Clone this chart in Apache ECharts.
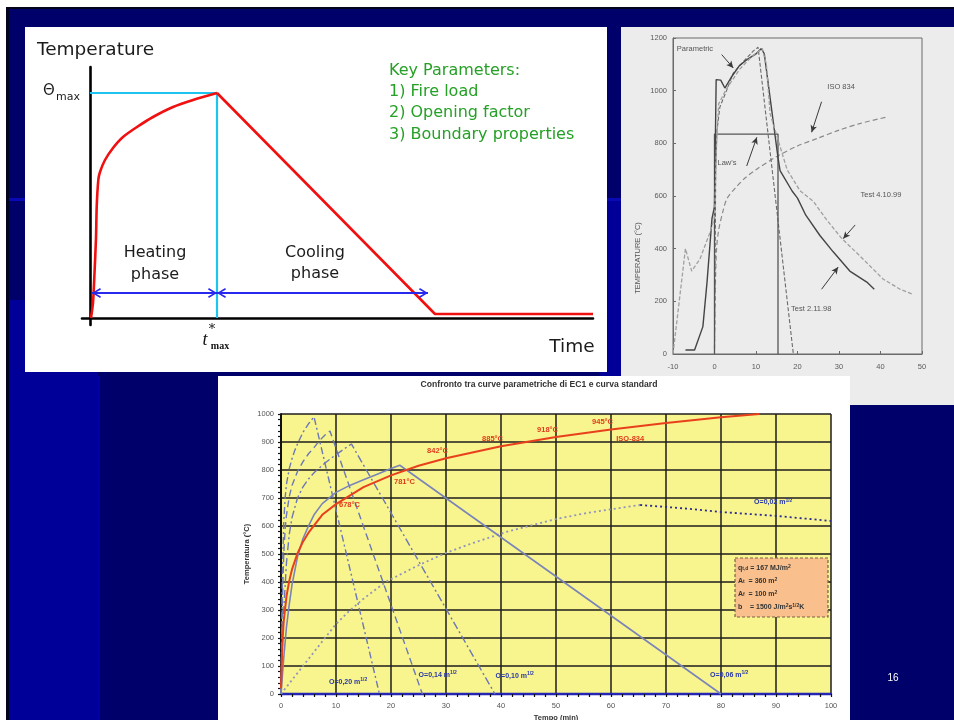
<!DOCTYPE html>
<html>
<head>
<meta charset="utf-8">
<title>Curve parametriche di incendio</title>
<script src="https://cdn.jsdelivr.net/npm/echarts@6/dist/echarts.min.js"></script>
<style>
html,body{margin:0;padding:0;background:#fff;overflow:hidden}
#chart{width:954px;height:720px}
</style>
</head>
<body>
<div id="chart"></div>
<script>
// ---------- Schematic parametric fire curve (arbitrary units) ----------
const schemHeatTime = [1, 3, 4.5, 6, 6.7, 8.3, 10, 15, 23, 33, 47, 63, 83, 103, 127];
const schemHeatTemp = [0, 15, 45, 80, 111, 138, 146, 158, 170, 181, 191, 201, 211, 218, 225];
const schemCoolTime = [127, 345, 503];
const schemCoolTemp = [225, 4, 4];
const schemPhaseLevel = 25;
const schemPhaseStart = 2;
const schemCoolPhaseEnd = 338;
const keyParameters = ['Key Parameters:', '1) Fire load', '2) Opening factor', '3) Boundary properties'];

// ---------- Test results vs. models (scanned comparison) ----------
const scanIsoTime = [0, 0.2, 0.5, 1, 2, 3, 5, 7.5, 10, 15, 20, 25, 30, 35, 41.5];
const scanIsoTemp = [20, 250, 400, 470, 540, 590, 630, 670, 700, 750, 790, 820, 850, 875, 900];
const scanParTime = [0, 0.3, 0.6, 1.3, 3, 4.5, 7, 9.3, 10.5, 19];
const scanParTemp = [20, 700, 850, 938, 1004, 1066, 1111, 1150, 1165, 0];
const scanLawTime = [0, 0, 15.3, 15.3];
const scanLawTemp = [0, 835, 835, 0];
const test98Time = [-7, -4.8, -2.8, -1.8, -0.6, 0, 0.4, 1.5, 2.5, 4, 6, 8, 10, 11.3, 12, 15.3, 15.8, 18.7, 20, 22, 25.4, 28.6, 32.6, 36.7, 38.5];
const test98Temp = [15, 15, 104, 273, 515, 560, 1042, 1040, 1010, 1050, 1095, 1120, 1140, 1160, 1140, 746, 696, 619, 592, 527, 450, 388, 315, 273, 246];
const test99Time = [-10, -8.5, -7, -5.5, -3.5, -1, 0, 0.5, 1, 3, 6, 9, 11.5, 12.5, 13.4, 17.5, 20.6, 23.8, 27, 30.7, 35, 40.6, 44.7, 47.8];
const test99Temp = [0, 200, 400, 315, 361, 465, 520, 800, 950, 1010, 1080, 1130, 1160, 1100, 912, 700, 620, 580, 510, 438, 373, 285, 246, 227];
const scanXTicks = [-10, 50, 10];
const scanYTicks = [0, 1200, 200];

// ---------- EC1 parametric curves vs. ISO 834 ----------
const isoTime = [0, 0.25, 0.5, 1, 1.5, 2, 3, 4, 5, 7.5, 10, 15, 20, 25, 30, 40, 50, 60, 70, 80, 87];
const isoTemp = [20, 185, 261, 349, 404, 445, 502, 544, 576, 640, 678, 739, 781, 815, 842, 885, 918, 945, 968, 988, 1000];
const isoLabelTimes = [10, 20, 30, 40, 50, 60];
const o20Time = [0, 0.25, 0.5, 0.75, 1, 1.5, 2, 2.5, 3, 4, 5, 6, 17.9];
const o20Temp = [0, 430, 610, 700, 750, 805, 840, 870, 893, 935, 965, 990, 0];
const o14Time = [0, 0.25, 0.5, 0.75, 1, 1.5, 2, 3, 4, 5, 6, 7, 8, 8.9, 25.7];
const o14Temp = [0, 330, 500, 590, 640, 705, 745, 795, 830, 858, 880, 905, 925, 939, 0];
const o10Time = [0, 0.5, 1, 1.5, 2, 3, 4, 5, 6, 8, 10, 12.8, 38.9];
const o10Temp = [0, 300, 470, 570, 630, 700, 740, 768, 790, 825, 855, 893, 0];
const o06Time = [0, 0.5, 1, 1.5, 2, 3, 4, 5, 6, 7.5, 10, 12.5, 15, 17.5, 20, 21.6, 80];
const o06Temp = [0, 130, 240, 320, 390, 490, 555, 600, 640, 680, 720, 745, 765, 785, 805, 817, 0];
const o02HeatTime = [0, 2, 4, 6, 8, 10, 12.6, 15, 19, 25, 30, 35, 41, 46, 50, 56, 65.3];
const o02HeatTemp = [0, 50, 100, 150, 200, 250, 300, 340, 400, 460, 504, 540, 579, 605, 625, 648, 675];
const o02CoolTime = [65.3, 70, 75, 80, 85, 90, 95, 100];
const o02CoolTemp = [675, 668, 660, 650, 643, 636, 627, 618];
const openingLabels = ['O=0,20 m', 'O=0,14 m', 'O=0,10 m', 'O=0,06 m', 'O=0,02 m'];
const mainXTicks = [0, 100, 10];
const mainYTicks = [0, 1000, 100];
const fireData = ['q{s|t,d} = 167 MJ/m{p|2}', 'A{s|t}  = 360 m{p|2}', 'A{s|f}  = 100 m{p|2}', 'b    = 1500 J/m{p|2}s{p|1/2}K'];

const pair = (xs, ys) => xs.map((x, i) => [x, ys[i]]);
const plain = v => String(v);

const SANS = '"Liberation Sans", Arial, sans-serif';
const VERD = '"DejaVu Sans", Verdana, sans-serif';
const PARAM_COLOR = '#6c78b4';
const LABEL_BLUE = '#2838a8';
const ISO_RED = '#e8401c';

// label placement for the ISO 834 values
const isoLabelPlace = [
  { position: 'right', distance: 3, offset: [0, 1] },
  { position: 'right', distance: 3, offset: [0, 7] },
  { position: 'left', distance: 0, offset: [2, -7] },
  { position: 'left', distance: 0, offset: [2, -7] },
  { position: 'left', distance: 0, offset: [2, -7] },
  { position: 'left', distance: 0, offset: [2, -7] }
];
const isoData = isoTime.map((t, i) => {
  const item = { value: [t, isoTemp[i]] };
  const k = isoLabelTimes.indexOf(t);
  if (k >= 0) item.label = Object.assign({ show: true }, isoLabelPlace[k]);
  return item;
});

const supRich = {
  s: { fontSize: 5, verticalAlign: 'top', fontWeight: 'bold', fontFamily: SANS, color: LABEL_BLUE }
};
function openingMark(text, t, v) {
  return {
    symbol: 'circle', symbolSize: 0, silent: true,
    label: {
      show: true, position: 'inside', formatter: text + '{s|1/2}',
      color: LABEL_BLUE, fontSize: 7, fontWeight: 'bold', fontFamily: SANS, lineHeight: 9, rich: supRich
    },
    data: [{ coord: [t, v] }]
  };
}

function scanNote(text, t, v, from, to) {
  return {
    markPoint: {
      symbol: 'circle', symbolSize: 0, silent: true,
      label: { show: true, position: 'inside', formatter: text, color: '#555', fontSize: 7.5, fontFamily: SANS },
      data: [{ coord: [t, v] }]
    },
    markLine: {
      silent: true, symbol: ['none', 'arrow'], symbolSize: [5, 7],
      lineStyle: { color: '#3a3a3a', width: 1, type: 'solid' },
      label: { show: false },
      data: [[{ coord: from }, { coord: to }]]
    }
  };
}

// open arrow head whose tip sits at the symbol centre
const chevron = 'path://M5,-10 L5,-10 Z M5,0 L10,9 L8.6,10 L5,3.2 L1.4,10 L0,9 Z';

const series = [
  // ----- schematic -----
  {
    type: 'line', xAxisIndex: 0, yAxisIndex: 0, showSymbol: false, smooth: 0.25,
    data: pair(schemHeatTime, schemHeatTemp),
    lineStyle: { color: '#f01010', width: 2.6 }, z: 4
  },
  {
    type: 'line', xAxisIndex: 0, yAxisIndex: 0, showSymbol: false,
    data: pair(schemCoolTime, schemCoolTemp),
    lineStyle: { color: '#f01010', width: 2.6 }, z: 4
  },
  {
    type: 'line', xAxisIndex: 0, yAxisIndex: 0, showSymbol: false,
    data: [[0, schemHeatTemp[schemHeatTemp.length - 1]],
           [schemHeatTime[schemHeatTime.length - 1], schemHeatTemp[schemHeatTemp.length - 1]],
           [schemHeatTime[schemHeatTime.length - 1], 0]],
    lineStyle: { color: '#1ec4f0', width: 2.2 }, z: 3,
    markLine: {
      silent: true, symbol: [chevron, chevron], symbolSize: [10, 18],
      lineStyle: { color: '#2828ee', width: 2, type: 'solid' },
      itemStyle: { color: '#2828ee' },
      label: { show: false },
      data: [
        [{ coord: [schemPhaseStart, schemPhaseLevel] }, { coord: [schemHeatTime[schemHeatTime.length - 1], schemPhaseLevel] }],
        [{ coord: [schemHeatTime[schemHeatTime.length - 1], schemPhaseLevel] }, { coord: [schemCoolPhaseEnd, schemPhaseLevel] }]
      ]
    }
  },
  // ----- scanned comparison -----
  Object.assign({
    type: 'line', xAxisIndex: 1, yAxisIndex: 1, showSymbol: false, smooth: 0.3,
    data: pair(scanIsoTime, scanIsoTemp),
    lineStyle: { color: '#8a8a8a', width: 1.2, type: [5, 3] }
  }, scanNote('ISO 834', 30.5, 1015, [25.8, 958], [23.4, 842])),
  Object.assign({
    type: 'line', xAxisIndex: 1, yAxisIndex: 1, showSymbol: false,
    data: pair(scanParTime, scanParTemp),
    lineStyle: { color: '#6a6a6a', width: 1.1, type: [4, 2] }
  }, scanNote('Parametric', -4.7, 1158, [1.73, 1137], [4.53, 1086])),
  Object.assign({
    type: 'line', xAxisIndex: 1, yAxisIndex: 1, showSymbol: false,
    data: pair(scanLawTime, scanLawTemp),
    lineStyle: { color: '#555', width: 1.3 }
  }, scanNote("Law's", 3.0, 727, [7.76, 714], [10.2, 823])),
  Object.assign({
    type: 'line', xAxisIndex: 1, yAxisIndex: 1, showSymbol: false,
    data: pair(test98Time, test98Temp),
    lineStyle: { color: '#444', width: 1.4 }
  }, scanNote('Test 2.11.98', 23.3, 173, [25.8, 246], [29.8, 330])),
  Object.assign({
    type: 'line', xAxisIndex: 1, yAxisIndex: 1, showSymbol: false,
    data: pair(test99Time, test99Temp),
    lineStyle: { color: '#a0a0a0', width: 1.3, type: [4, 2] }
  }, scanNote('Test 4.10.99', 40.1, 605, [33.9, 490], [31.0, 438])),
  // ----- EC1 parametric curves -----
  {
    type: 'line', xAxisIndex: 2, yAxisIndex: 2, showSymbol: false,
    data: pair(o02HeatTime, o02HeatTemp),
    lineStyle: { color: '#9094bc', width: 1.8, type: [2, 3] }, z: 3
  },
  {
    type: 'line', xAxisIndex: 2, yAxisIndex: 2, showSymbol: false,
    data: pair(o02CoolTime, o02CoolTemp),
    lineStyle: { color: '#2a2a90', width: 1.8, type: [2, 3] }, z: 3,
    markPoint: openingMark(openingLabels[4], 89.5, 684)
  },
  {
    type: 'line', xAxisIndex: 2, yAxisIndex: 2, showSymbol: false,
    data: pair(o20Time, o20Temp),
    lineStyle: { color: PARAM_COLOR, width: 1.4, type: [7, 3, 2, 3] }, z: 3,
    markPoint: openingMark(openingLabels[0], 12.2, 43)
  },
  {
    type: 'line', xAxisIndex: 2, yAxisIndex: 2, showSymbol: false,
    data: pair(o14Time, o14Temp),
    lineStyle: { color: PARAM_COLOR, width: 1.4, type: [7, 4] }, z: 3,
    markPoint: openingMark(openingLabels[1], 28.5, 68)
  },
  {
    type: 'line', xAxisIndex: 2, yAxisIndex: 2, showSymbol: false,
    data: pair(o10Time, o10Temp),
    lineStyle: { color: PARAM_COLOR, width: 1.4, type: [8, 3, 2, 3] }, z: 3,
    markPoint: openingMark(openingLabels[2], 42.5, 64)
  },
  {
    type: 'line', xAxisIndex: 2, yAxisIndex: 2, showSymbol: false,
    data: pair(o06Time, o06Temp),
    lineStyle: { color: '#7a84b8', width: 1.6 }, z: 3,
    markPoint: openingMark(openingLabels[3], 81.5, 68)
  },
  {
    type: 'line', xAxisIndex: 2, yAxisIndex: 2, showSymbol: true, showAllSymbol: true, symbolSize: 0,
    data: isoData,
    lineStyle: { color: ISO_RED, width: 2 }, itemStyle: { color: ISO_RED }, z: 5,
    label: {
      show: false, color: '#e23a1c', fontSize: 7.5, fontWeight: 'bold', fontFamily: SANS,
      formatter: p => Math.round(p.value[1]) + '°C'
    },
    markPoint: {
      symbol: 'circle', symbolSize: 0, silent: true,
      label: { show: true, position: 'inside', formatter: 'ISO-834', color: '#e23a1c', fontSize: 7.5, fontWeight: 'bold', fontFamily: SANS },
      data: [{ coord: [63.5, 910] }]
    }
  }
];

const hiddenAxis = {
  type: 'value',
  axisLine: { show: true, onZero: true, lineStyle: { color: '#000', width: 2.6 } },
  axisTick: { show: false }, axisLabel: { show: false }, splitLine: { show: false }
};

const scanAxis = (idx, ticks, margin) => ({
  type: 'value', gridIndex: idx, min: ticks[0], max: ticks[1], interval: ticks[2],
  axisLine: { show: true, onZero: false, lineStyle: { color: '#6a6a6a', width: 1 } },
  axisTick: { show: true, inside: true, length: 3, lineStyle: { color: '#6a6a6a' } },
  axisLabel: { color: '#5a5a5a', fontSize: 7.5, fontFamily: SANS, margin, formatter: plain },
  splitLine: { show: false }
});

const mainAxisCommon = {
  type: 'value', gridIndex: 2,
  axisTick: { show: true, length: 3, lineStyle: { color: '#111', width: 1.2 } },
  minorTick: { show: true, splitNumber: 5, length: 3, lineStyle: { color: '#111', width: 1.2 } },
  splitLine: { show: true, lineStyle: { color: '#1e1e1e', width: 1.5 } }
};

const xAxes = [
  Object.assign({ gridIndex: 0, min: -8, max: 503 }, hiddenAxis),
  scanAxis(1, scanXTicks, 9),
  Object.assign({}, mainAxisCommon, {
    min: mainXTicks[0], max: mainXTicks[1], interval: mainXTicks[2],
    axisLine: { show: true, onZero: false, lineStyle: { color: '#2626b4', width: 2.4 } },
    axisLabel: { color: '#555', fontSize: 7.5, fontFamily: SANS, margin: 8, formatter: plain },
    name: 'Tempo (min)', nameLocation: 'middle', nameGap: 20, nameMoveOverlap: false,
    nameTextStyle: { color: '#333', fontSize: 7.5, fontWeight: 'bold', fontFamily: SANS }
  })
];
const yAxes = [
  Object.assign({ gridIndex: 0, min: -7, max: 251 }, hiddenAxis),
  scanAxis(1, scanYTicks, 6),
  Object.assign({}, mainAxisCommon, {
    min: mainYTicks[0], max: mainYTicks[1], interval: mainYTicks[2],
    axisLine: { show: true, onZero: false, lineStyle: { color: '#111', width: 2 } },
    axisLabel: { color: '#555', fontSize: 7.5, fontFamily: SANS, margin: 7, formatter: plain },
    name: 'Temperatura (°C)', nameLocation: 'middle', nameGap: 30, nameMoveOverlap: false,
    nameTextStyle: { color: '#333', fontSize: 7.5, fontWeight: 'bold', fontFamily: SANS }
  })
];

const txt = (text, x, y, font, fill, align, extra) => Object.assign({
  type: 'text', z: 50,
  style: { text, x, y, font, fill, textAlign: align || 'left', textVerticalAlign: 'middle' }
}, extra || {});

const graphics = [
  // slide background
  { type: 'rect', z: -40, shape: { x: 0, y: 0, width: 954, height: 720 }, style: { fill: '#ffffff' } },
  { type: 'rect', z: -39, shape: { x: 6, y: 7, width: 948, height: 713 }, style: { fill: '#04041c' } },
  { type: 'rect', z: -38, shape: { x: 9, y: 9, width: 945, height: 711 }, style: { fill: '#00006a' } },
  { type: 'rect', z: -37, shape: { x: 600, y: 198, width: 354, height: 178 }, style: { fill: '#000099' } },
  { type: 'rect', z: -37, shape: { x: 9, y: 300, width: 89, height: 420 }, style: { fill: '#000099' } },
  { type: 'rect', z: -36, shape: { x: 9, y: 198, width: 945, height: 3 }, style: { fill: '#0a0ab4' } },
  { type: 'rect', z: -36, shape: { x: 98, y: 376, width: 2, height: 344 }, style: { fill: '#0000aa' } },
  // panels
  { type: 'rect', z: -30, shape: { x: 25, y: 27, width: 582, height: 345 }, style: { fill: '#ffffff' } },
  { type: 'rect', z: -30, shape: { x: 621, y: 27, width: 333, height: 378 }, style: { fill: '#ececec' } },
  { type: 'rect', z: -29, shape: { x: 218, y: 376, width: 632, height: 344 }, style: { fill: '#ffffff' } },

  // schematic texts
  txt('Temperature', 37, 50, '18.5px ' + VERD, '#1c1c1c'),
  txt('Θ', 49, 91, '15px ' + VERD, '#1c1c1c', 'center'),
  txt('max', 56, 97, '11px ' + VERD, '#1c1c1c'),
  txt(keyParameters[0], 389, 71, '16px ' + VERD, '#26a026'),
  txt(keyParameters[1], 389, 92, '16px ' + VERD, '#26a026'),
  txt(keyParameters[2], 389, 113, '16px ' + VERD, '#26a026'),
  txt(keyParameters[3], 389, 135, '16px ' + VERD, '#26a026'),
  txt('Heating', 155, 253, '16px ' + VERD, '#1c1c1c', 'center'),
  txt('phase', 155, 275, '16px ' + VERD, '#1c1c1c', 'center'),
  txt('Cooling', 315, 253, '16px ' + VERD, '#1c1c1c', 'center'),
  txt('phase', 315, 274, '16px ' + VERD, '#1c1c1c', 'center'),
  txt('Time', 572, 347, '18.5px ' + VERD, '#1c1c1c', 'center'),
  txt('t', 205, 340, 'italic 18px "Liberation Serif", serif', '#111', 'center'),
  txt('*', 212, 330, '13px "DejaVu Serif", serif', '#111', 'center'),
  txt('max', 220, 346, 'bold 10px "Liberation Serif", serif', '#111', 'center'),

  // scanned chart axis title
  txt('TEMPERATURE (°C)', 0, 0, '7.5px ' + SANS, '#555', 'center', { x: 638, y: 258, rotation: Math.PI / 2 }),

  // main chart title
  txt('Confronto tra curve parametriche di EC1 e curva standard', 539, 385, 'bold 8.6px ' + SANS, '#333', 'center'),

  // fire data box
  {
    type: 'rect', z: 40, shape: { x: 735, y: 558, width: 93, height: 59 },
    style: { fill: '#f9c08e', stroke: '#7a6040', lineWidth: 1.2, lineDash: [3, 2] }
  },
  ...fireData.map((line, i) => ({
    type: 'text', z: 50,
    style: {
      text: line, x: 738, y: 568 + i * 13, textVerticalAlign: 'middle',
      font: 'bold 7px ' + SANS, fill: '#333',
      rich: {
        s: { fontSize: 5, fontWeight: 'bold', verticalAlign: 'bottom', fontFamily: SANS, fill: '#333' },
        p: { fontSize: 5, fontWeight: 'bold', verticalAlign: 'top', fontFamily: SANS, fill: '#333' }
      }
    }
  })),

  // slide number
  txt('16', 893, 678, '10px ' + SANS, '#ffffff', 'center')
];

const option = {
  animation: false,
  backgroundColor: 'transparent',
  textStyle: { fontFamily: SANS },
  grid: [
    { left: 82, top: 67, width: 511, height: 258, outerBoundsMode: 'none' },
    { left: 673, top: 38, width: 249, height: 316, show: true, borderColor: '#6a6a6a', borderWidth: 1, backgroundColor: 'transparent', outerBoundsMode: 'none' },
    { left: 281, top: 414, width: 550, height: 280, show: true, backgroundColor: '#f8f48e', borderWidth: 0, outerBoundsMode: 'none' }
  ],
  xAxis: xAxes,
  yAxis: yAxes,
  series,
  graphic: { elements: graphics }
};

const chart = echarts.init(document.getElementById('chart'), null, { renderer: 'canvas' });
chart.setOption(option);
</script>
</body>
</html>
